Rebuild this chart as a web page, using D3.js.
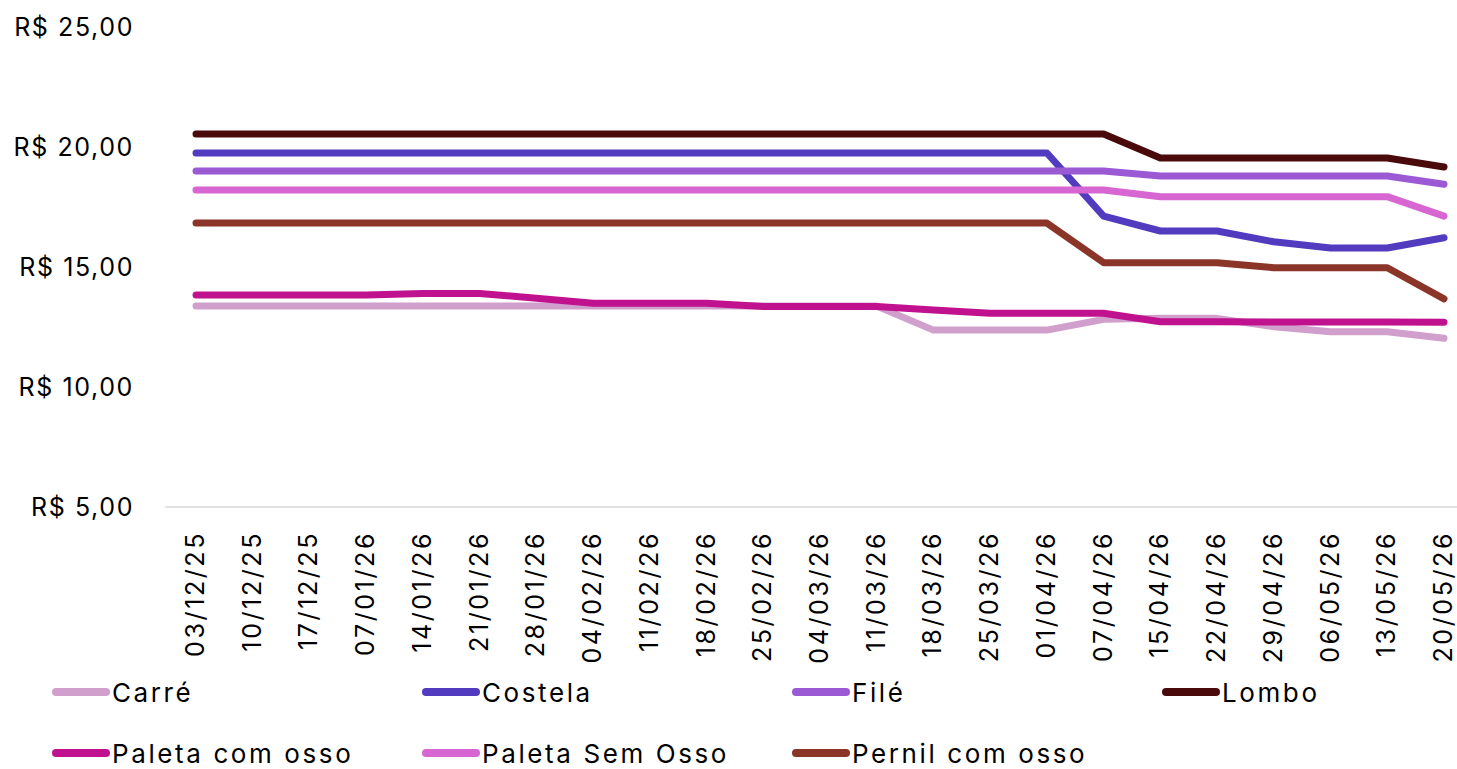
<!DOCTYPE html>
<html>
<head>
<meta charset="utf-8">
<script src="https://cdn.jsdelivr.net/npm/d3@7"></script>
<style>
  html, body { margin: 0; padding: 0; background: #fff; }
  svg { display: block; font-family: Inter, "Noto Sans", sans-serif; }
</style>
</head>
<body>
<svg id="chart" width="1457" height="769"></svg>
<script>
// Datas das coletas
const dates = ['03/12/25','10/12/25','17/12/25','07/01/26','14/01/26','21/01/26','28/01/26',
  '04/02/26','11/02/26','18/02/26','25/02/26','04/03/26','11/03/26','18/03/26','25/03/26',
  '01/04/26','07/04/26','15/04/26','22/04/26','29/04/26','06/05/26','13/05/26','20/05/26'];

const carre     = [13.37,13.37,13.37,13.37,13.37,13.37,13.37,13.37,13.37,13.37,13.37,13.37,13.37,12.37,12.37,12.37,12.82,12.86,12.86,12.51,12.30,12.30,12.03];
const costela   = [19.75,19.75,19.75,19.75,19.75,19.75,19.75,19.75,19.75,19.75,19.75,19.75,19.75,19.75,19.75,19.75,17.12,16.50,16.50,16.05,15.79,15.79,16.22];
const file      = [19.00,19.00,19.00,19.00,19.00,19.00,19.00,19.00,19.00,19.00,19.00,19.00,19.00,19.00,19.00,19.00,19.00,18.79,18.79,18.79,18.79,18.79,18.45];
const lombo     = [20.54,20.54,20.54,20.54,20.54,20.54,20.54,20.54,20.54,20.54,20.54,20.54,20.54,20.54,20.54,20.54,20.54,19.54,19.54,19.54,19.54,19.54,19.17];
const paletaCom = [13.83,13.83,13.83,13.83,13.90,13.90,13.70,13.49,13.49,13.49,13.35,13.35,13.35,13.21,13.07,13.07,13.07,12.72,12.72,12.71,12.71,12.71,12.70];
const paletaSem = [18.21,18.21,18.21,18.21,18.21,18.21,18.21,18.21,18.21,18.21,18.21,18.21,18.21,18.21,18.21,18.21,18.21,17.93,17.93,17.93,17.93,17.93,17.12];
const pernil    = [16.83,16.83,16.83,16.83,16.83,16.83,16.83,16.83,16.83,16.83,16.83,16.83,16.83,16.83,16.83,16.83,15.18,15.18,15.18,14.97,14.97,14.97,13.67];

const yTicks = [5, 10, 15, 20, 25];

const series = [
  { name: 'Carré',            values: carre,     color: '#d09fcc' },
  { name: 'Costela',          values: costela,   color: '#523bbf' },
  { name: 'Filé',             values: file,      color: '#9b59d4' },
  { name: 'Lombo',            values: lombo,     color: '#4a0a0b' },
  { name: 'Paleta com osso',  values: paletaCom, color: '#c0128e' },
  { name: 'Paleta Sem Osso',  values: paletaSem, color: '#d766d2' },
  { name: 'Pernil com osso',  values: pernil,    color: '#8b3428' }
];

const svg = d3.select('#chart');

const x = d3.scalePoint().domain(dates).range([196, 1444]);
const y = d3.scaleLinear().domain([5, 25]).range([507, 27]);

const fmt = v => 'R$ ' + d3.format('.2f')(v).replace('.', ',');

// Eixo Y (somente rótulos)
svg.append('g')
  .selectAll('text')
  .data(yTicks)
  .join('text')
  .attr('x', 134)
  .attr('y', d => y(d))
  .attr('text-anchor', 'end')
  .attr('dominant-baseline', 'central')
  .attr('font-size', 25)
  .attr('letter-spacing', 1.6)
  .attr('fill', '#000')
  .text(fmt);

// Linha do eixo X
svg.append('line')
  .attr('x1', 165).attr('x2', 1457)
  .attr('y1', y(5)).attr('y2', y(5))
  .attr('stroke', '#d9d9d9').attr('stroke-width', 1.5);

// Rótulos do eixo X
svg.append('g')
  .selectAll('text')
  .data(dates)
  .join('text')
  .attr('transform', d => `translate(${x(d) - 1}, 531) rotate(-90)`)
  .attr('text-anchor', 'end')
  .attr('dominant-baseline', 'central')
  .attr('font-size', 25)
  .attr('letter-spacing', 2.6)
  .attr('fill', '#000')
  .text(d => d);

// Linhas
const line = d3.line()
  .x((d, i) => x(dates[i]))
  .y(d => y(d));

svg.append('g')
  .selectAll('path')
  .data(series)
  .join('path')
  .attr('d', d => line(d.values))
  .attr('fill', 'none')
  .attr('stroke', d => d.color)
  .attr('stroke-width', 7)
  .attr('stroke-linecap', 'round')
  .attr('stroke-linejoin', 'round');

// Legenda
const legend = svg.append('g')
  .selectAll('g')
  .data(series)
  .join('g')
  .attr('transform', (d, i) => `translate(${52 + (i % 4) * 370}, ${i < 4 ? 692 : 753})`);

legend.append('line')
  .attr('x1', 4).attr('x2', 54)
  .attr('stroke', d => d.color)
  .attr('stroke-width', 8)
  .attr('stroke-linecap', 'round');

legend.append('text')
  .attr('x', 60)
  .attr('dominant-baseline', 'central')
  .attr('font-size', 26)
  .attr('letter-spacing', 2.6)
  .attr('fill', '#000')
  .text(d => d.name);
</script>
</body>
</html>
